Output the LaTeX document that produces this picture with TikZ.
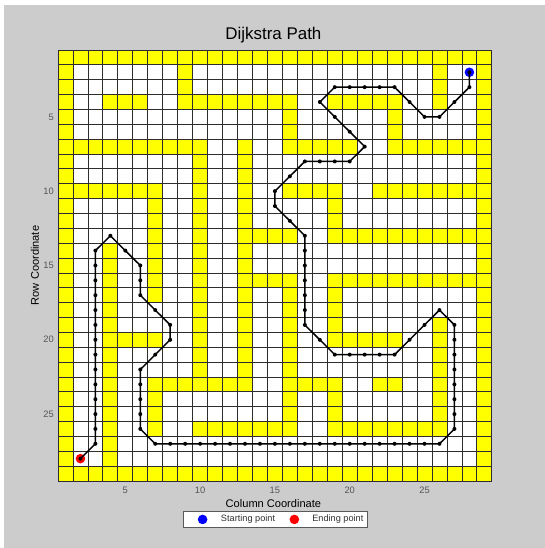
\documentclass[tikz,border=0pt]{standalone}
\usepackage{fontspec}
\setmainfont{Liberation Sans}
\definecolor{figgray}{RGB}{204,204,204}
\definecolor{wallyellow}{RGB}{255,255,0}
\definecolor{gridline}{RGB}{45,45,45}
\definecolor{ticktext}{RGB}{85,85,85}
\definecolor{startblue}{RGB}{0,0,255}
\definecolor{endred}{RGB}{255,0,0}

\begin{document}
\begin{tikzpicture}[x=11.22pt, y=-11.145pt,
  wall/.style={fill=wallyellow},
  cellline/.style={draw=gridline, line width=0.6pt},
  route/.style={line width=1.1pt, line join=round},
  tick/.style={font=\fontsize{7}{8}\selectfont, text=ticktext, inner sep=0pt},
  axislabel/.style={font=\fontsize{8.3}{10}\selectfont, inner sep=0pt},
  legtext/.style={font=\fontsize{6.9}{8}\selectfont, text=black!80, anchor=west, inner sep=0pt}]
\useasboundingbox (-3.377,-2.865) rectangle (33.053,34.013);
\fill[white] (-3.377,-2.865) rectangle (33.053,34.013);
\fill[figgray] (-3.11,-2.53) rectangle (33.053,34.013);

% Title
\node[font=\fontsize{12.7}{15}\selectfont] (title) at (14.9,-0.51) {Dijkstra Path};

% Maze cells
\fill[white] (0.5,0.5) rectangle (29.5,29.5);
\foreach \r/\spans in {
  1/{1/29},
  2/{1/1,9/9,26/26,29/29},
  3/{1/1,9/9,26/26,29/29},
  4/{1/1,4/6,9/16,19/23,26/26,29/29},
  5/{1/1,16/16,23/23,29/29},
  6/{1/1,16/16,23/23,29/29},
  7/{1/10,13/13,16/20,23/29},
  8/{1/1,10/10,13/13,29/29},
  9/{1/1,10/10,13/13,29/29},
  10/{1/7,10/10,13/13,16/19,22/29},
  11/{1/1,7/7,10/10,13/13,19/19,29/29},
  12/{1/1,7/7,10/10,13/13,19/19,29/29},
  13/{1/1,7/7,10/10,13/16,19/29},
  14/{1/1,4/4,7/7,10/10,13/13,29/29},
  15/{1/1,4/4,7/7,10/10,13/13,29/29},
  16/{1/1,4/4,7/7,10/10,13/16,19/29},
  17/{1/1,4/4,7/7,10/10,13/13,16/16,19/19,29/29},
  18/{1/1,4/4,10/10,13/13,16/16,19/19,29/29},
  19/{1/1,4/4,10/10,13/13,16/16,19/19,26/26,29/29},
  20/{1/1,4/7,10/10,13/13,16/16,19/23,26/26,29/29},
  21/{1/1,4/4,10/10,13/13,16/16,26/26,29/29},
  22/{1/1,4/4,10/10,13/13,16/16,26/26,29/29},
  23/{1/1,4/4,7/13,16/19,22/23,26/26,29/29},
  24/{1/1,4/4,7/7,16/16,19/19,26/26,29/29},
  25/{1/1,4/4,7/7,16/16,19/19,26/26,29/29},
  26/{1/1,4/4,7/7,10/16,19/26,29/29},
  27/{1/1,4/4,29/29},
  28/{1/1,4/4,29/29},
  29/{1/29}}
  \foreach \a/\b in \spans
    \fill[wall] (\a-0.5,\r-0.5) rectangle (\b+0.5,\r+0.5);
\foreach \k in {0,...,29} {
  \draw[cellline] (\k+0.5,0.5) -- (\k+0.5,29.5);
  \draw[cellline] (0.5,\k+0.5) -- (29.5,\k+0.5);
}

% Path points
\foreach \c/\r [count=\i] in {28/2,28/3,27/4,26/5,25/5,24/4,23/3,22/3,21/3,20/3,19/3,
  18/4,19/5,20/6,21/7,20/8,19/8,18/8,17/8,16/9,15/10,15/11,16/12,17/13,17/14,17/15,
  17/16,17/17,17/18,17/19,18/20,19/21,20/21,21/21,22/21,23/21,24/20,25/19,26/18,
  27/19,27/20,27/21,27/22,27/23,27/24,27/25,27/26,26/27,25/27,24/27,23/27,22/27,
  21/27,20/27,19/27,18/27,17/27,16/27,15/27,14/27,13/27,12/27,11/27,10/27,9/27,8/27,
  7/27,6/26,6/25,6/24,6/23,6/22,7/21,8/20,8/19,7/18,6/17,6/16,6/15,5/14,4/13,3/14,
  3/15,3/16,3/17,3/18,3/19,3/20,3/21,3/22,3/23,3/24,3/25,3/26,3/27,2/28} {
  \coordinate (p\i) at (\c,\r);
  \xdef\routelen{\i}
}
\fill[startblue] (p1) circle (3.6pt);
\fill[endred] (p\routelen) circle (3.6pt);
\draw[route] (p1) \foreach \i in {2,...,\routelen} { -- (p\i) };
\foreach \i in {1,...,\routelen}
  \fill (p\i) circle (1.5pt);

% Axes
\foreach \v in {5,10,...,25} {
  \node[tick] (xt\v) at (\v,30.11) {\v};
  \node[tick, anchor=east] (yt\v) at (0.23,\v) {\v};
}
\node[axislabel] (xlabel) at (14.9,31.05) {Column Coordinate};
\node[axislabel, rotate=90] (ylabel) at (-1.04,15) {Row Coordinate};

% Legend
\draw[draw=black!65, line width=0.6pt, fill=white] (8.856,31.52) rectangle (21.155,32.6);
\fill[startblue] (10.166,32.09) circle (3.6pt);
\node[legtext] (startlab) at (11.376,32.09) {Starting point};
\fill[endred] (16.3,32.09) circle (3.6pt);
\node[legtext] (endlab) at (17.48,32.09) {Ending point};
\end{tikzpicture}
\end{document}
